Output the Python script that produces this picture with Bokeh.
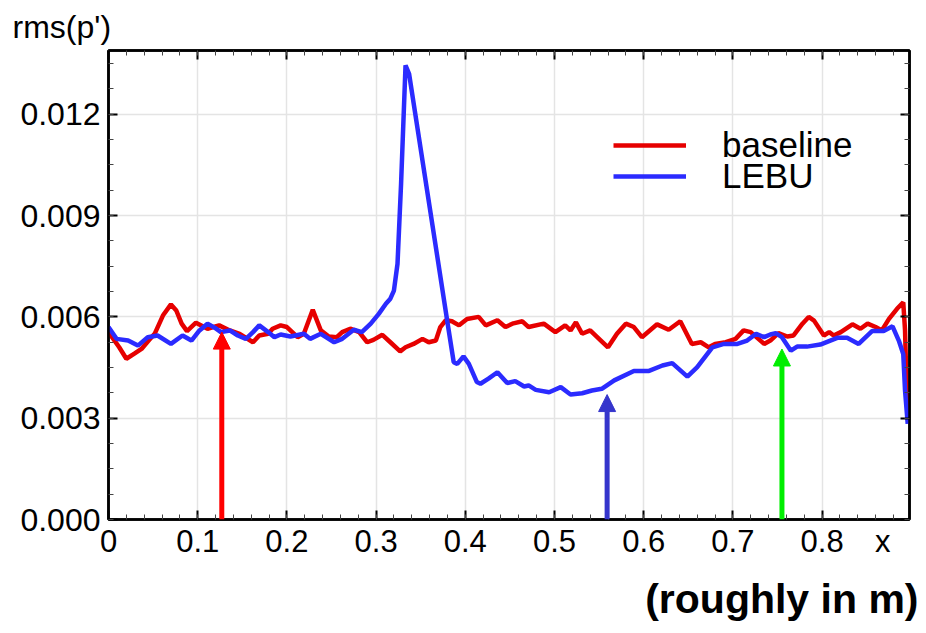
from bokeh.plotting import figure
from bokeh.models import (Range1d, LinearAxis, Arrow, NormalHead, Legend, Title,
                          LegendItem, FixedTicker, NumeralTickFormatter, BasicTickFormatter)
from bokeh.embed import file_html
from bokeh.resources import INLINE

# ---------------- data ----------------
base_x = [0.0, 0.004, 0.012, 0.020, 0.029, 0.037, 0.045, 0.052, 0.061, 0.070, 0.076, 0.082,
          0.088, 0.098, 0.111, 0.124, 0.136, 0.147, 0.162, 0.169, 0.179, 0.184, 0.193, 0.200,
          0.212, 0.219, 0.229, 0.238, 0.247, 0.256, 0.262, 0.271, 0.281, 0.290, 0.297, 0.307,
          0.316, 0.327, 0.333, 0.342, 0.352, 0.359, 0.367, 0.372, 0.378, 0.385, 0.393, 0.402,
          0.415, 0.423, 0.436, 0.445, 0.454, 0.464, 0.471, 0.488, 0.501, 0.512, 0.518, 0.524,
          0.531, 0.540, 0.552, 0.560, 0.570, 0.580, 0.589, 0.598, 0.615, 0.628, 0.641, 0.654,
          0.664, 0.673, 0.680, 0.692, 0.703, 0.712, 0.720, 0.735, 0.742, 0.751, 0.761, 0.768,
          0.778, 0.785, 0.791, 0.802, 0.808, 0.813, 0.821, 0.834, 0.843, 0.851, 0.860, 0.867,
          0.875, 0.884, 0.891, 0.893, 0.895, 0.897]
base_y = [0.0056, 0.0054, 0.0051, 0.00476, 0.00491, 0.00505, 0.0053, 0.00551, 0.00604, 0.00637,
          0.00619, 0.0058, 0.00558, 0.00583, 0.00565, 0.00575, 0.0056, 0.0055, 0.00525, 0.00545,
          0.0055, 0.00565, 0.00575, 0.0057, 0.0054, 0.0055, 0.00621, 0.0056, 0.00542, 0.0054,
          0.00555, 0.00565, 0.00555, 0.00525, 0.00532, 0.00547, 0.00525, 0.00498, 0.0051, 0.0052,
          0.00535, 0.00525, 0.0053, 0.0057, 0.0059, 0.00587, 0.00575, 0.00594, 0.006, 0.00575,
          0.0059, 0.0057, 0.00581, 0.00587, 0.0057, 0.0058, 0.00555, 0.00575, 0.0056, 0.00584,
          0.0055, 0.0056, 0.0053, 0.0051, 0.0055, 0.0058, 0.0057, 0.0054, 0.00578, 0.00562,
          0.00587, 0.0052, 0.00525, 0.0051, 0.0052, 0.00525, 0.00535, 0.0056, 0.00555, 0.0052,
          0.0053, 0.00552, 0.00542, 0.00545, 0.0058, 0.006, 0.00589, 0.00545, 0.00555, 0.00545,
          0.00555, 0.00578, 0.00565, 0.0058, 0.0057, 0.0056, 0.00594, 0.00624, 0.00643, 0.0056,
          0.0036, 0.0029]

lebu_x = [0.0, 0.009, 0.022, 0.033, 0.044, 0.055, 0.070, 0.083, 0.093, 0.102, 0.111, 0.119,
          0.126, 0.136, 0.145, 0.154, 0.162, 0.169, 0.179, 0.186, 0.193, 0.204, 0.219, 0.226,
          0.238, 0.253, 0.262, 0.275, 0.284, 0.294, 0.303, 0.311, 0.316, 0.320, 0.324, 0.328,
          0.333, 0.337, 0.380, 0.387, 0.391, 0.398, 0.404, 0.413, 0.417, 0.426, 0.436, 0.447,
          0.456, 0.466, 0.471, 0.479, 0.494, 0.507, 0.518, 0.531, 0.542, 0.553, 0.567, 0.589,
          0.606, 0.621, 0.632, 0.649, 0.660, 0.677, 0.690, 0.705, 0.716, 0.726, 0.735, 0.742,
          0.748, 0.755, 0.765, 0.772, 0.783, 0.798, 0.817, 0.828, 0.841, 0.856, 0.869, 0.879,
          0.886, 0.891, 0.893, 0.896]
lebu_y = [0.0057, 0.00535, 0.0053, 0.00515, 0.0054, 0.00545, 0.0052, 0.00545, 0.0053, 0.0056,
          0.0058, 0.00568, 0.00555, 0.0056, 0.00545, 0.00535, 0.00555, 0.00575, 0.00555, 0.0054,
          0.00548, 0.00542, 0.0055, 0.00535, 0.0055, 0.00525, 0.00535, 0.00562, 0.00555, 0.0058,
          0.00609, 0.00639, 0.00654, 0.00678, 0.00757, 0.00994, 0.01345, 0.0132, 0.00584, 0.00466,
          0.00461, 0.00483, 0.00461, 0.00407, 0.00402, 0.00417, 0.00436, 0.00404, 0.0041, 0.00394,
          0.00397, 0.00384, 0.00377, 0.00392, 0.0037, 0.00374, 0.00382, 0.00387, 0.00412, 0.0044,
          0.0044, 0.00456, 0.00463, 0.00423, 0.00451, 0.0051, 0.0052, 0.0052, 0.0053, 0.0055,
          0.0054, 0.00548, 0.00552, 0.0054, 0.005, 0.00512, 0.00512, 0.00518, 0.00538, 0.00538,
          0.0052, 0.00558, 0.00558, 0.00572, 0.0053, 0.0049, 0.00382, 0.00283]

arrow_x = [0.127, 0.559, 0.755]
arrow_tip = [0.00555, 0.0037, 0.00505]
arrow_colors = ["#ff0000", "#3535cc", "#00ee00"]

x_ticks = [0, 0.1, 0.2, 0.3, 0.4, 0.5, 0.6, 0.7, 0.8]
x_axis_name_pos = 0.868
y_ticks = [0.0, 0.003, 0.006, 0.009, 0.012]
x_minor = [round(i * 0.02, 3) for i in range(0, 46)]
y_minor = [round(i * 0.00075, 6) for i in range(0, 19)]

X_MAX = 0.898
Y_MAX = 0.01389

FONT = "Liberation Sans"

p = figure(width=926, height=633, output_backend="svg", toolbar_location=None,
           x_range=Range1d(0, X_MAX), y_range=Range1d(0, Y_MAX),
           x_axis_location=None, y_axis_location=None,
           min_border_left=108, min_border_right=17, min_border_top=50, min_border_bottom=114)
p.background_fill_color = "white"
p.border_fill_color = "white"
p.outline_line_color = "black"
p.outline_line_width = 2.5

p.title.text = "rms(p')"
p.title.align = "left"
p.title.offset = -96
p.title.standoff = 12
p.title.text_font = FONT
p.title.text_font_size = "32px"
p.title.text_font_style = "normal"
p.title.text_color = "black"

xt = FixedTicker(ticks=x_ticks, minor_ticks=x_minor)
yt = FixedTicker(ticks=y_ticks, minor_ticks=y_minor)
xt_labels = FixedTicker(ticks=x_ticks + [x_axis_name_pos], minor_ticks=[])


def style(ax, labels):
    ax.axis_line_color = "black"
    ax.axis_line_width = 2.5
    ax.major_tick_in = 9
    ax.major_tick_out = 0
    ax.minor_tick_in = 5
    ax.minor_tick_out = 0
    ax.major_tick_line_width = 2
    ax.minor_tick_line_width = 1
    ax.major_tick_line_color = "black"
    ax.minor_tick_line_color = "#444444"
    if not labels:
        ax.major_label_text_alpha = 0
        ax.major_label_text_font_size = "0px"
        ax.major_label_standoff = 0


# bottom: ticks-only axis at the frame, then a label-only axis below it
bottom_ticks = LinearAxis(ticker=xt)
style(bottom_ticks, False)
p.add_layout(bottom_ticks, "below")

bottom = LinearAxis(ticker=xt_labels, formatter=BasicTickFormatter())
bottom.major_label_overrides = {x_axis_name_pos: "x"}
bottom.major_label_text_font = FONT
bottom.major_label_text_font_size = "31px"
bottom.major_label_text_color = "black"
bottom.major_label_standoff = 4
bottom.axis_line_alpha = 0
bottom.major_tick_line_alpha = 0
bottom.minor_tick_line_alpha = 0
bottom.major_tick_in = 0
bottom.major_tick_out = 0
p.add_layout(bottom, "below")

left = LinearAxis(ticker=yt, formatter=NumeralTickFormatter(format="0.000"))
left.major_label_text_font = FONT
left.major_label_text_font_size = "32px"
left.major_label_text_color = "black"
left.major_label_standoff = 8
style(left, True)
p.add_layout(left, "left")

top = LinearAxis(ticker=xt)
style(top, False)
p.add_layout(top, "above")

right = LinearAxis(ticker=yt)
style(right, False)
p.add_layout(right, "right")

p.add_layout(Title(text="(roughly in m)", align="right", offset=-9, standoff=24,
                   text_font=FONT, text_font_size="41px", text_font_style="bold",
                   text_color="black"), "below")

p.xgrid.ticker = xt
p.ygrid.ticker = yt
p.xgrid.grid_line_color = "#e4e4e4"
p.ygrid.grid_line_color = "#e4e4e4"
p.xgrid.grid_line_width = 1.5
p.ygrid.grid_line_width = 1.5

r_base = p.line(base_x, base_y, line_color="#e60000", line_width=4.5)
r_lebu = p.line(lebu_x, lebu_y, line_color="#2b2bff", line_width=4.5)

for ax_, tip, col in zip(arrow_x, arrow_tip, arrow_colors):
    p.add_layout(Arrow(end=NormalHead(size=17, fill_color=col, line_color=col, line_width=1),
                       x_start=ax_, y_start=0, x_end=ax_, y_end=tip,
                       line_color=col, line_width=5))

for lbl, rr, loc_y in (("baseline", r_base, 354), ("LEBU", r_lebu, 323)):
    lg = Legend(items=[LegendItem(label=lbl, renderers=[rr])], location=(505, loc_y),
                glyph_width=73, glyph_height=30, label_height=30, label_standoff=36,
                padding=0, margin=0, spacing=0,
                label_text_font=FONT, label_text_font_size="35px", label_text_color="black",
                background_fill_alpha=0, border_line_alpha=0)
    p.add_layout(lg, "center")

open("out.html", "w").write(file_html(p, INLINE))
